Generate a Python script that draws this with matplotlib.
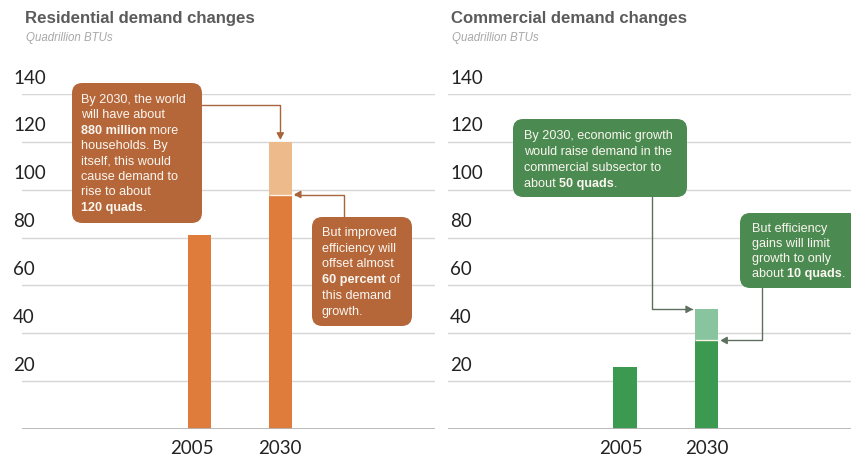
import matplotlib
matplotlib.use("Agg")
import matplotlib.pyplot as plt
from matplotlib.patches import FancyBboxPatch, FancyArrowPatch
from matplotlib.path import Path
from matplotlib.transforms import IdentityTransform

# ---- data (quadrillion BTUs) ----
years = ["2005", "2030"]
res_actual = [81, 98]          # residential demand, with efficiency gains
res_potential = 120            # 2030 residential demand without efficiency gains
com_actual = [26, 37]          # commercial demand, with efficiency gains
com_potential = 50             # 2030 commercial demand without efficiency gains
yticks = [20, 40, 60, 80, 100, 120, 140]

W, H = 851, 459
fig = plt.figure(figsize=(W / 100, H / 100), dpi=100)
fig.patch.set_facecolor("white")

TICK_FONT = ["Lato", "DejaVu Sans"]
BODY_FONT = ["Liberation Sans", "DejaVu Sans"]

def px(x, y):
    """top-left pixel -> figure fraction"""
    return x / W, (H - y) / H

def disp(x, y):
    """top-left pixel -> display coords"""
    return x, H - y

y0_px, y140_px = 429, 94
ax_bottom = (H - y0_px) / H
ax_height = (y0_px - y140_px) / H

axL = fig.add_axes([22 / W, ax_bottom, (435 - 22) / W, ax_height])
axR = fig.add_axes([448 / W, ax_bottom, (851 - 448) / W, ax_height])

res_colors = ("#DF7C3B", "#EDBA8C", "#B5673A")
com_colors = ("#3C9A50", "#88C49E", "#4B8A50")

bar_w = 0.284
xpos = [0, 1]

def setup(ax, xlim):
    ax.set_xlim(*xlim)
    ax.set_ylim(0, 140)
    for s in ax.spines.values():
        s.set_visible(False)
    ax.set_xticks([])
    ax.set_yticks([])
    for v in yticks:
        ax.axhline(v, color="#d6d6d6", lw=1.0, zorder=0)
    ax.axhline(0, color="#b4b4b4", lw=1.3, zorder=3)

setup(axL, (-2.19, 2.91))
setup(axR, (-2.17, 2.77))

def draw_bars(ax, actual, potential, colors, label_shift):
    dark, light, _ = colors
    ax.bar(xpos, actual, width=bar_w, color=dark, zorder=2, linewidth=0)
    ax.bar(xpos[1], potential - actual[1], bottom=actual[1], width=bar_w,
           color=light, zorder=2, linewidth=0)
    ax.plot([xpos[1] - bar_w / 2, xpos[1] + bar_w / 2], [actual[1], actual[1]],
            color="#fbf3e8", lw=1.0, zorder=2.5, solid_capstyle="butt")
    for x, lab, dx in zip(xpos, years, label_shift):
        ax.annotate(lab, (x, 0), xytext=(dx, -19), textcoords="offset pixels",
                    ha="center", va="center", fontsize=13.5, family=TICK_FONT,
                    color="#222222")

draw_bars(axL, res_actual, res_potential, res_colors, (-7, 0))
draw_bars(axR, com_actual, com_potential, com_colors, (-4, 0))

# y tick labels sit above their gridlines
for ax, xlab in ((axL, 13), (axR, 450)):
    for v in yticks:
        ax.annotate(str(v), xy=(0, v), xycoords=("axes fraction", "data"),
                    xytext=(xlab - ax.get_position().x0 * W, 16),
                    textcoords="offset pixels", ha="left", va="center",
                    fontsize=13.5, family=TICK_FONT, color="#222222")

# titles
for x, title in ((25, "Residential demand changes"), (451, "Commercial demand changes")):
    fig.text(*px(x, 18), title, fontsize=12.1, fontweight="bold",
             color="#5b5b5b", family=BODY_FONT, va="center", ha="left")
    fig.text(*px(x + 1, 38), "Quadrillion BTUs", fontsize=8.3, style="italic",
             color="#a8a8a8", family=BODY_FONT, va="center", ha="left")

renderer = fig.canvas.get_renderer()

def box(x0, y0, x1, y1, color):
    bx, by = px(x0, y1)
    p = FancyBboxPatch((bx, by), (x1 - x0) / W, (y1 - y0) / H,
                       boxstyle="round,pad=0,rounding_size=0.012",
                       transform=fig.transFigure, facecolor=color,
                       edgecolor="none", zorder=5, mutation_aspect=W / H)
    fig.add_artist(p)

def rich_lines(x, y_first, spacing, lines, size=9.1):
    for i, parts in enumerate(lines):
        cx = x
        yb = y_first + i * spacing
        for text, bold in parts:
            t = fig.text(*px(cx, yb), text, fontsize=size,
                         fontweight="bold" if bold else "normal",
                         color="#fbf6f0", family=BODY_FONT,
                         ha="left", va="baseline", zorder=6)
            cx += t.get_window_extent(renderer).width

def connector(points, color):
    verts = [disp(*p) for p in points]
    codes = [Path.MOVETO] + [Path.LINETO] * (len(verts) - 1)
    arr = FancyArrowPatch(path=Path(verts, codes),
                          arrowstyle="-|>,head_length=4,head_width=2.2",
                          color=color, lw=1.0, transform=IdentityTransform(),
                          shrinkA=0, shrinkB=0, zorder=4)
    fig.add_artist(arr)

def data_px(ax, x, y):
    dx, dy = ax.transData.transform((x, y))
    return dx, H - dy

# ---- residential annotations ----
box(72, 83, 202, 223, res_colors[2])
rich_lines(81, 103, 15.4, [
    [("By 2030, the world", False)],
    [("will have about", False)],
    [("880 million", True), (" more", False)],
    [("households. By", False)],
    [("itself, this would", False)],
    [("cause demand to", False)],
    [("rise to about", False)],
    [("120 quads", True), (".", False)],
])
box(312, 217, 412, 326, res_colors[2])
rich_lines(322, 236, 15.7, [
    [("But improved", False)],
    [("efficiency will", False)],
    [("offset almost", False)],
    [("60 percent", True), (" of", False)],
    [("this demand", False)],
    [("growth.", False)],
])
cx, top = data_px(axL, xpos[1], res_potential)
connector([(202, 105), (cx, 105), (cx, top - 2)], "#a8643c")
rx, ay = data_px(axL, xpos[1] + bar_w / 2, res_actual[1])
connector([(344, 217), (344, ay), (rx + 2, ay)], "#a8643c")

# ---- commercial annotations ----
box(513, 119, 687, 197, com_colors[2])
rich_lines(524, 139, 16, [
    [("By 2030, economic growth", False)],
    [("would raise demand in the", False)],
    [("commercial subsector to", False)],
    [("about ", False), ("50 quads", True), (".", False)],
])
box(740, 213, 860, 288, com_colors[2])
rich_lines(752, 232, 15, [
    [("But efficiency", False)],
    [("gains will limit", False)],
    [("growth to only", False)],
    [("about ", False), ("10 quads", True), (".", False)],
])
lx, ptop = data_px(axR, xpos[1] - bar_w / 2, com_potential)
connector([(652, 197), (652, ptop), (lx - 2, ptop)], "#5f6f60")
rx2, ay2 = data_px(axR, xpos[1] + bar_w / 2, com_actual[1])
connector([(762, 288), (762, ay2), (rx2 + 2, ay2)], "#5f6f60")

fig.savefig("out.png", dpi=100, facecolor="white")
